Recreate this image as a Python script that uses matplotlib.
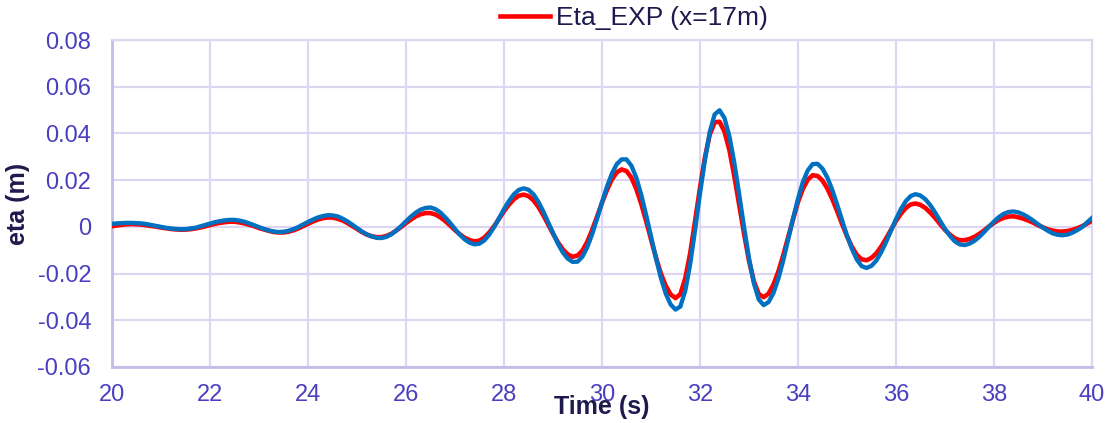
import numpy as np
import matplotlib
matplotlib.use('Agg')
import matplotlib.pyplot as plt
from matplotlib.ticker import FuncFormatter, MultipleLocator

plt.rcParams['font.family'] = ['Liberation Sans', 'DejaVu Sans']

# time axis, 0.1 s steps from 20 s to 40 s
time_s = np.round(np.arange(200, 401) / 10.0, 1)

# measured free-surface elevation at x=17m (red)
eta_exp = [
    0.0003, 0.0006, 0.0009, 0.0011, 0.0012,
    0.0011, 0.0010, 0.0007, 0.0004, 0.0001, -0.0003, -0.0006, -0.0009, -0.0011, -0.0012,
    -0.0012, -0.0010, -0.0007, -0.0003, 0.0002, 0.0008, 0.0013, 0.0017, 0.0020, 0.0022,
    0.0022, 0.0019, 0.0015, 0.0009, 0.0003, -0.0005, -0.0011, -0.0017, -0.0022, -0.0024,
    -0.0024, -0.0021, -0.0015, -0.0007, 0.0003, 0.0013, 0.0023, 0.0031, 0.0037, 0.0040,
    0.0040, 0.0035, 0.0028, 0.0017, 0.0004, -0.0009, -0.0022, -0.0033, -0.0040, -0.0044,
    -0.0044, -0.0039, -0.0030, -0.0016, -0.0001, 0.0016, 0.0031, 0.0045, 0.0054, 0.0059,
    0.0059, 0.0053, 0.0041, 0.0025, 0.0006, -0.0014, -0.0032, -0.0047, -0.0057, -0.0062,
    -0.0059, -0.0046, -0.0024, 0.0003, 0.0035, 0.0067, 0.0095, 0.0118, 0.0133, 0.0138,
    0.0132, 0.0114, 0.0086, 0.0051, 0.0011, -0.0029, -0.0066, -0.0096, -0.0118, -0.0128,
    -0.0123, -0.0102, -0.0064, -0.0013, 0.0044, 0.0103, 0.0157, 0.0202, 0.0233, 0.0246,
    0.0239, 0.0211, 0.0163, 0.0099, 0.0026, -0.0053, -0.0130, -0.0199, -0.0252, -0.0289,
    -0.0305, -0.0288, -0.0220, -0.0113, 0.0025, 0.0167, 0.0297, 0.0395, 0.0448, 0.0450,
    0.0408, 0.0329, 0.0218, 0.0095, -0.0030, -0.0145, -0.0233, -0.0288, -0.0301, -0.0286,
    -0.0247, -0.0191, -0.0121, -0.0044, 0.0033, 0.0106, 0.0163, 0.0202, 0.0221, 0.0218,
    0.0198, 0.0164, 0.0119, 0.0067, 0.0012, -0.0040, -0.0085, -0.0120, -0.0139, -0.0143,
    -0.0133, -0.0113, -0.0084, -0.0049, -0.0012, 0.0025, 0.0056, 0.0081, 0.0096, 0.0100,
    0.0094, 0.0081, 0.0061, 0.0038, 0.0012, -0.0013, -0.0033, -0.0049, -0.0057, -0.0057,
    -0.0052, -0.0043, -0.0030, -0.0015, 0.0002, 0.0017, 0.0030, 0.0039, 0.0044, 0.0045,
    0.0041, 0.0035, 0.0027, 0.0018, 0.0007, -0.0002, -0.0011, -0.0016, -0.0020, -0.0020,
    -0.0018, -0.0013, -0.0006, 0.0003, 0.0014, 0.0026,
]

# numerical result (blue, not in legend)
eta_num = [
    0.0013, 0.0015, 0.0016, 0.0017, 0.0017,
    0.0016, 0.0015, 0.0012, 0.0008, 0.0004, 0.0000, -0.0004, -0.0007, -0.0009, -0.0010,
    -0.0010, -0.0007, -0.0004, 0.0002, 0.0008, 0.0014, 0.0020, 0.0024, 0.0028, 0.0030,
    0.0030, 0.0027, 0.0022, 0.0015, 0.0007, -0.0001, -0.0009, -0.0015, -0.0020, -0.0022,
    -0.0021, -0.0017, -0.0010, -0.0001, 0.0010, 0.0021, 0.0031, 0.0040, 0.0046, 0.0050,
    0.0049, 0.0045, 0.0036, 0.0024, 0.0010, -0.0005, -0.0020, -0.0032, -0.0041, -0.0047,
    -0.0048, -0.0043, -0.0032, -0.0016, 0.0003, 0.0024, 0.0044, 0.0061, 0.0074, 0.0081,
    0.0083, 0.0076, 0.0062, 0.0041, 0.0017, -0.0009, -0.0034, -0.0054, -0.0068, -0.0075,
    -0.0072, -0.0058, -0.0033, 0.0000, 0.0037, 0.0076, 0.0110, 0.0139, 0.0158, 0.0165,
    0.0159, 0.0140, 0.0108, 0.0067, 0.0021, -0.0026, -0.0072, -0.0109, -0.0136, -0.0150,
    -0.0149, -0.0128, -0.0087, -0.0031, 0.0035, 0.0105, 0.0171, 0.0227, 0.0268, 0.0289,
    0.0289, 0.0262, 0.0211, 0.0138, 0.0052, -0.0041, -0.0133, -0.0217, -0.0285, -0.0332,
    -0.0354, -0.0341, -0.0273, -0.0159, -0.0014, 0.0143, 0.0285, 0.0407, 0.0482, 0.0499,
    0.0466, 0.0388, 0.0275, 0.0139, -0.0002, -0.0134, -0.0242, -0.0311, -0.0335, -0.0322,
    -0.0283, -0.0221, -0.0143, -0.0054, 0.0036, 0.0120, 0.0192, 0.0242, 0.0269, 0.0270,
    0.0249, 0.0211, 0.0158, 0.0095, 0.0028, -0.0038, -0.0094, -0.0140, -0.0168, -0.0176,
    -0.0167, -0.0144, -0.0108, -0.0064, -0.0016, 0.0033, 0.0076, 0.0110, 0.0132, 0.0140,
    0.0134, 0.0118, 0.0093, 0.0061, 0.0026, -0.0009, -0.0038, -0.0062, -0.0075, -0.0078,
    -0.0072, -0.0060, -0.0043, -0.0022, 0.0001, 0.0023, 0.0042, 0.0056, 0.0064, 0.0066,
    0.0062, 0.0053, 0.0041, 0.0027, 0.0011, -0.0004, -0.0017, -0.0028, -0.0034, -0.0036,
    -0.0033, -0.0025, -0.0014, -0.0001, 0.0019, 0.0038,
]

tick_color = '#4B3FBF'
label_color = '#1E1A4D'
grid_color = '#DCD6F2'
spine_color = '#C4BCE8'

fig = plt.figure(figsize=(11.12, 4.23), dpi=100)
ax = fig.add_axes([0.1007, 0.1324, 0.8813, 0.773])

ax.plot(time_s, eta_exp, color='#FF0000', lw=3.3, label='Eta_EXP (x=17m)', zorder=3,
        solid_joinstyle='round')
ax.plot(time_s, eta_num, color='#0070C0', lw=3.1, zorder=4, solid_joinstyle='round')

ax.set_xlim(20, 40)
ax.set_ylim(-0.06, 0.08)
ax.xaxis.set_major_locator(MultipleLocator(2))
ax.yaxis.set_major_locator(MultipleLocator(0.02))
ax.yaxis.set_major_formatter(FuncFormatter(lambda v, p: '0' if abs(v) < 1e-9 else f'{v:.2f}'))

ax.grid(True, color=grid_color, lw=1.6)
ax.set_axisbelow(True)
for side in ['top', 'right']:
    ax.spines[side].set_color(grid_color)
    ax.spines[side].set_linewidth(1.6)
for side in ['left', 'bottom']:
    ax.spines[side].set_color(spine_color)
    ax.spines[side].set_linewidth(2)

ax.tick_params(axis='both', length=0, labelsize=17, colors=tick_color)
ax.tick_params(axis='x', pad=12)
ax.tick_params(axis='y', pad=15)

ax.set_xlabel('Time (s)', fontsize=18, fontweight='bold', color=label_color)
ax.xaxis.set_label_coords(0.5, -0.085)
ax.set_ylabel('eta (m)', fontsize=18, fontweight='bold', color=label_color)
ax.yaxis.set_label_coords(-0.084, 0.5)

leg = ax.legend(loc='center', bbox_to_anchor=(0.570, 0.957), bbox_transform=fig.transFigure,
                frameon=False, fontsize=19, handlelength=1.9, handletextpad=0.2)
for t in leg.get_texts():
    t.set_color(label_color)

fig.savefig('out.png', dpi=100)
